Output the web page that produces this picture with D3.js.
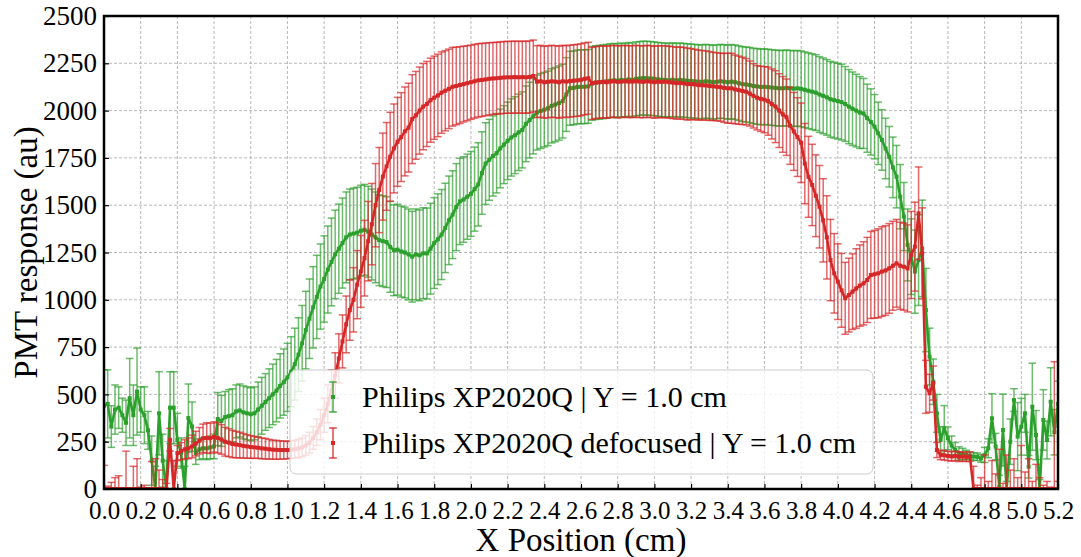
<!DOCTYPE html>
<html><head><meta charset="utf-8">
<script src="https://cdn.jsdelivr.net/npm/d3@7/dist/d3.min.js"></script>
<style>body{margin:0;background:#fff}svg{display:block}</style>
</head><body>
<svg id="c" width="1081" height="557"></svg>
<script>
// ---------------- data ----------------
const xTicks = ["0.0","0.2","0.4","0.6","0.8","1.0","1.2","1.4","1.6","1.8","2.0","2.2","2.4","2.6","2.8","3.0","3.2","3.4","3.6","3.8","4.0","4.2","4.4","4.6","4.8","5.0","5.2"];
const yTicks = [0,250,500,750,1000,1250,1500,1750,2000,2250,2500];
const seriesNames = ["Philips XP2020Q | Y = 1.0 cm", "Philips XP2020Q defocused | Y = 1.0 cm"];
// scan positions (cm), one every 0.02 cm from 0.00 to 5.20
const xPos = d3.range(0, 261).map(i => +(i * 0.02).toFixed(2));

const greenVals = [
 440,450,330,420,430,390,350,480,390,515,
 420,390,310,150,0,400,150,0,430,430,
 260,190,0,375,330,190,210,215,215,220,
 225,370,360,380,385,390,410,415,405,400,
 395,400,420,440,460,480,500,520,545,565,
 590,620,660,710,770,840,900,960,1015,1070,
 1110,1160,1200,1240,1270,1300,1330,1345,1350,1355,
 1365,1370,1360,1345,1330,1315,1310,1305,1280,1262,
 1265,1255,1250,1240,1228,1240,1235,1246,1245,1270,
 1300,1320,1345,1380,1420,1450,1490,1520,1530,1545,
 1560,1585,1610,1670,1720,1740,1760,1775,1800,1820,
 1840,1858,1870,1885,1898,1930,1950,1970,1990,1998,
 2005,2012,2025,2032,2040,2050,2085,2118,2120,2125,
 2126,2126,2128,2144,2148,2150,2152,2155,2158,2160,
 2158,2162,2160,2165,2162,2168,2170,2172,2171,2170,
 2168,2165,2163,2162,2160,2163,2160,2162,2160,2158,
 2156,2155,2153,2152,2155,2153,2150,2152,2155,2153,
 2150,2153,2150,2145,2140,2138,2135,2130,2128,2125,
 2126,2124,2122,2120,2118,2118,2120,2118,2116,2118,
 2115,2110,2105,2100,2095,2085,2078,2070,2060,2055,
 2050,2045,2035,2021,2010,2000,1990,1985,1960,1940,
 1915,1880,1845,1800,1756,1700,1651,1545,1440,1290,
 1228,1149,1210,1272,946,700,567,400,259,321,
 268,230,206,188,185,180,176,172,170,162,
 180,215,374,224,12,312,0,250,470,277,
 329,400,118,435,285,0,365,259,461,300,
 450];
const greenErr = [
 190,180,110,130,110,90,120,210,160,230,
 120,150,100,130,120,220,140,150,190,190,
 140,80,120,180,130,60,55,55,60,60,
 65,140,135,135,140,140,140,140,140,140,
 140,140,145,150,150,155,160,165,170,175,
 180,185,190,195,200,205,210,215,220,225,
 228,230,232,234,236,238,240,240,240,240,
 240,240,240,240,240,240,240,240,240,240,
 240,240,240,240,240,240,240,240,240,240,
 240,240,238,236,234,232,230,228,226,225,
 224,222,220,218,216,214,212,210,208,206,
 205,204,203,202,201,200,200,199,198,198,
 197,197,196,196,196,195,195,195,195,195,
 195,195,195,195,195,195,195,195,195,195,
 195,195,195,195,195,195,195,195,195,195,
 195,195,195,195,195,195,195,195,195,195,
 195,195,195,195,195,195,195,195,195,195,
 196,196,197,197,198,198,199,199,200,200,
 200,200,200,200,200,200,200,200,200,200,
 200,200,200,200,200,200,200,200,200,200,
 200,200,198,196,194,192,190,185,180,175,
 170,165,160,160,160,160,165,170,180,190,
 200,220,240,255,220,150,120,100,70,120,
 60,50,40,35,30,25,20,20,20,20,
 40,50,130,70,60,190,40,120,60,180,
 150,100,60,230,130,50,160,100,180,120,
 120];
const redVals = [
 0,0,0,0,0,0,0,0,0,0,
 0,0,0,0,0,0,0,0,260,0,
 190,200,210,215,225,240,255,268,270,268,
 275,270,262,250,245,238,235,232,228,225,
 222,220,218,215,213,210,208,207,206,206,
 206,208,210,214,220,230,245,270,300,340,
 390,450,520,600,690,780,870,946,1000,1080,
 1150,1220,1310,1400,1500,1580,1651,1705,1756,1800,
 1835,1860,1890,1910,1955,1975,2000,2021,2035,2055,
 2068,2080,2095,2105,2115,2126,2130,2135,2140,2145,
 2150,2155,2160,2162,2165,2168,2170,2171,2173,2175,
 2176,2176,2177,2176,2177,2176,2178,2183,2153,2155,
 2150,2152,2155,2153,2150,2155,2153,2156,2158,2160,
 2163,2168,2171,2144,2148,2150,2152,2150,2153,2155,
 2152,2153,2155,2153,2153,2155,2153,2152,2155,2153,
 2150,2153,2152,2153,2150,2148,2145,2146,2144,2140,
 2140,2138,2135,2134,2133,2130,2128,2126,2124,2120,
 2118,2118,2112,2108,2104,2100,2090,2078,2068,2062,
 2058,2050,2035,2021,2000,1980,1965,1920,1890,1860,
 1830,1720,1650,1607,1550,1492,1420,1330,1210,1140,
 1096,1050,1008,1025,1043,1060,1075,1087,1105,1131,
 1135,1140,1149,1155,1166,1180,1193,1180,1175,1166,
 1237,1281,1457,1246,540,506,560,206,180,178,
 175,172,175,170,172,170,171,0,0,0,
 0,0,0,0,0,0,0,0,0,0,
 0,0,0,0,0,0,0,0,0,0,
 0];
const redErr = [
 125,15,35,60,70,0,200,0,120,160,
 10,20,0,145,160,100,50,30,60,150,
 40,45,50,55,60,65,70,75,80,80,
 80,80,78,76,74,72,70,68,65,62,
 60,58,56,55,54,52,50,50,48,48,
 46,46,47,48,50,52,55,60,70,80,
 90,100,110,120,130,140,150,160,170,180,
 190,200,210,215,220,225,230,232,235,235,
 235,235,235,235,235,232,230,228,225,222,
 220,218,215,212,210,208,205,203,200,198,
 196,195,194,193,192,191,190,190,190,190,
 190,190,190,190,190,190,190,190,190,190,
 190,190,190,190,190,190,190,190,190,190,
 190,190,190,190,190,190,190,190,190,190,
 190,190,190,190,190,190,190,190,190,190,
 190,190,190,190,190,190,190,190,190,190,
 188,186,185,184,183,182,180,180,180,182,
 185,185,182,180,178,175,172,170,170,172,
 175,180,185,190,195,200,202,204,206,208,
 210,212,214,215,216,218,220,220,215,210,
 200,195,190,195,200,210,215,220,225,230,
 232,235,237,237,237,235,232,230,230,230,
 230,235,245,240,140,100,90,40,25,25,
 25,25,25,25,25,25,25,120,20,60,
 180,40,150,80,210,30,180,100,160,60,
 230,90,160,40,130,60,20,40,10,673,
 40];

// ---------------- layout ----------------
const L = 104, T = 16, W = 954, H = 473;
const svg = d3.select("#c");
const FONT = "'Liberation Serif', 'Times New Roman', serif";
const x = d3.scaleLinear().domain([0, 5.2]).range([L, L + W]);
const y = d3.scaleLinear().domain([0, 2500]).range([T + H, T]);

svg.append("defs").append("clipPath").attr("id", "clip")
  .append("rect").attr("x", L).attr("y", T).attr("width", W).attr("height", H);

// grid
const grid = svg.append("g");
grid.selectAll("line.gx").data(xTicks.map(Number)).join("line")
  .attr("x1", d => x(d)).attr("x2", d => x(d)).attr("y1", T).attr("y2", T + H)
  .attr("stroke", "#b0b0b0").attr("stroke-width", 0.9).attr("stroke-dasharray", "3,2");
grid.selectAll("line.gy").data(yTicks).join("line")
  .attr("y1", d => y(d)).attr("y2", d => y(d)).attr("x1", L).attr("x2", L + W)
  .attr("stroke", "#b0b0b0").attr("stroke-width", 0.9).attr("stroke-dasharray", "3,2");

// series
const series = [
  {name: seriesNames[0], v: greenVals, e: greenErr, line: "#2ca02c", bar: "#2ca02c"},
  {name: seriesNames[1], v: redVals, e: redErr, line: "#d62728", bar: "#d62728"}
];
const plot = svg.append("g").attr("clip-path", "url(#clip)");
const cap = 3.8;
series.forEach(s => {
  const pts = xPos.map((xx, i) => ({x: xx, v: s.v[i], e: s.e[i]}));
  const g = plot.append("g");
  const eb = g.append("g").attr("stroke", s.bar).attr("stroke-opacity", 0.7).attr("stroke-width", 1.5);
  eb.selectAll("line.v").data(pts).join("line")
    .attr("x1", d => x(d.x)).attr("x2", d => x(d.x))
    .attr("y1", d => y(d.v - d.e)).attr("y2", d => y(d.v + d.e));
  eb.selectAll("line.t").data(pts).join("line")
    .attr("x1", d => x(d.x) - cap).attr("x2", d => x(d.x) + cap)
    .attr("y1", d => y(d.v + d.e)).attr("y2", d => y(d.v + d.e));
  eb.selectAll("line.b").data(pts).join("line")
    .attr("x1", d => x(d.x) - cap).attr("x2", d => x(d.x) + cap)
    .attr("y1", d => y(d.v - d.e)).attr("y2", d => y(d.v - d.e));
  g.append("path").datum(pts)
    .attr("d", d3.line().x(d => x(d.x)).y(d => y(d.v)))
    .attr("fill", "none").attr("stroke", s.line).attr("stroke-width", 2.6).attr("stroke-linejoin", "round");
  g.selectAll("rect").data(pts).join("rect")
    .attr("x", d => x(d.x) - 2).attr("y", d => y(d.v) - 2).attr("width", 4).attr("height", 4)
    .attr("fill", s.line);
});

// axes ticks (inward)
const xAxis = d3.axisBottom(x).tickValues(xTicks.map(Number)).tickFormat((d, i) => xTicks[i]).tickSize(-5).tickPadding(12);
const yAxis = d3.axisLeft(y).tickValues(yTicks).tickFormat(d3.format("d")).tickSize(-5).tickPadding(7);
const gx = svg.append("g").attr("transform", `translate(0,${T + H})`).call(xAxis);
const gy = svg.append("g").attr("transform", `translate(${L},0)`).call(yAxis);
[gx, gy].forEach(g => {
  g.select(".domain").remove();
  g.selectAll(".tick line").attr("stroke", "#000").attr("stroke-width", 1.2);
  g.selectAll("text").attr("font-family", FONT).attr("fill", "#000");
});
gx.selectAll("text").attr("font-size", 25);
gy.selectAll("text").attr("font-size", 27);

// frame
svg.append("rect").attr("x", L).attr("y", T).attr("width", W).attr("height", H)
  .attr("fill", "none").attr("stroke", "#000").attr("stroke-width", 2.5);

// axis titles
svg.append("text").attr("x", 581).attr("y", 551).attr("text-anchor", "middle")
  .attr("font-family", FONT).attr("font-size", 33).attr("fill", "#000").text("X Position (cm)");
svg.append("text").attr("transform", `translate(37,${T + H / 2}) rotate(-90)`).attr("text-anchor", "middle")
  .attr("font-family", FONT).attr("font-size", 33).attr("fill", "#000").text("PMT response (au)");

// legend
const lg = svg.append("g");
lg.append("rect").attr("x", 290).attr("y", 370).attr("width", 583).attr("height", 104).attr("rx", 6)
  .attr("fill", "#fff").attr("fill-opacity", 0.8).attr("stroke", "#cccccc").attr("stroke-width", 1);
series.forEach((s, i) => {
  const cy = 397 + i * 46, hx = 333;
  const h = lg.append("g");
  h.append("line").attr("x1", hx).attr("x2", hx).attr("y1", cy - 15).attr("y2", cy + 15)
    .attr("stroke", s.bar).attr("stroke-opacity", 0.85).attr("stroke-width", 1.5);
  [cy - 15, cy + 15].forEach(yy => h.append("line").attr("x1", hx - cap).attr("x2", hx + cap)
    .attr("y1", yy).attr("y2", yy).attr("stroke", s.bar).attr("stroke-opacity", 0.85).attr("stroke-width", 1.5));
  h.append("rect").attr("x", hx - 2).attr("y", cy - 2).attr("width", 4).attr("height", 4).attr("fill", s.line);
  lg.append("text").attr("x", 362).attr("y", cy + 10).attr("font-family", FONT).attr("font-size", 30)
    .attr("fill", "#000").text(s.name);
});
</script>
</body></html>
